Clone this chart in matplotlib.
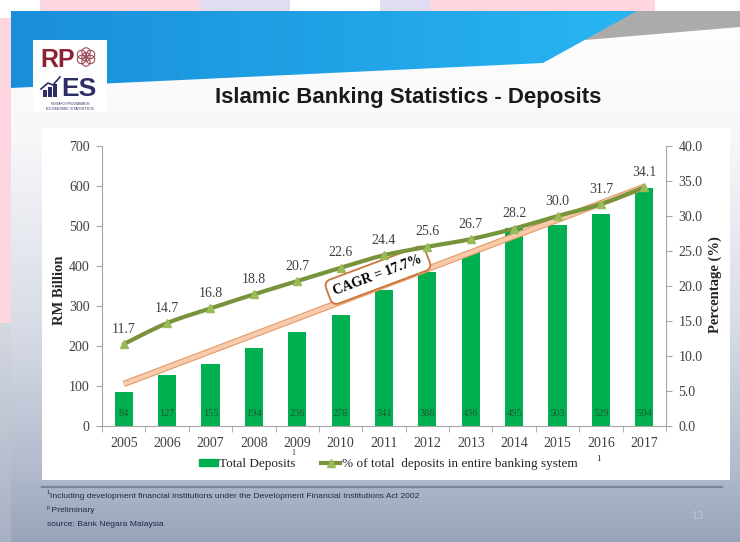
import numpy as np
import matplotlib
matplotlib.use("Agg")
import matplotlib.pyplot as plt
from matplotlib.patches import Polygon, Rectangle, Circle, PathPatch
from matplotlib.path import Path
from matplotlib.lines import Line2D
import matplotlib.patheffects as pe

# ---- data -------------------------------------------------------------
years = ["2005", "2006", "2007", "2008", "2009", "2010", "2011",
         "2012", "2013", "2014", "2015", "2016", "2017"]
deposits = [84, 127, 155, 194, 236, 278, 341, 386, 436, 495, 503, 529, 594]
share_pct = [11.7, 14.7, 16.8, 18.8, 20.7, 22.6, 24.4, 25.6, 26.7, 28.2,
             30.0, 31.7, 34.1]
cagr_text = "CAGR = 17.7%"
cagr_line = [105, 598]          # RM billion at first and last year
left_ticks = [0, 100, 200, 300, 400, 500, 600, 700]
right_ticks = [0, 5, 10, 15, 20, 25, 30, 35, 40]

title = "Islamic Banking Statistics - Deposits"
legend_labels = ["Total Deposits", "% of total  deposits in entire banking system"]
footnotes = ["Including development financial institutions under the Development Financial Institutions Act 2002",
             " Preliminary",
             "source: Bank Negara Malaysia"]

SERIF = ["Liberation Serif", "DejaVu Serif"]
NARROW = ["Liberation Sans Narrow", "Liberation Sans", "DejaVu Sans"]
BAR_GREEN = "#00B050"
LINE_GREEN = "#77933C"
MARK_GREEN = "#9BBB59"
TXT = "#404040"
AXIS_GREY = "#A6A6A6"

W, H = 740, 542
fig = plt.figure(figsize=(W / 100, H / 100), dpi=100)

# ---- slide background (pixel coordinates) ------------------------------
bg = fig.add_axes([0, 0, 1, 1], zorder=-10)
bg.set_xlim(0, W)
bg.set_ylim(H, 0)
bg.axis("off")

# outer page strips
bg.add_patch(Rectangle((0, 0), W, H, color="white", zorder=0))
for x0, x1, c in [(40, 200, "#FDD6DF"), (200, 290, "#E0DDF2"),
                  (380, 430, "#E0DDF2"), (430, 655, "#FDD6DF")]:
    bg.add_patch(Rectangle((x0, 0), x1 - x0, 11, color=c, lw=0, zorder=1))
bg.add_patch(Rectangle((0, 18), 11, 305, color="#FDD6DF", lw=0, zorder=1))
side = np.linspace(0, 1, 100)[:, None, None]
side_cols = (1 - side) * np.array([0.83, 0.85, 0.88]) + side * np.array([0.66, 0.69, 0.76])
bg.imshow(side_cols, extent=(0, 11, H, 323), aspect="auto", zorder=1)

# slide body: white fading to grey-blue towards the bottom
yy = np.linspace(11, H, 300)
def grad(y):
    stops = [(11, (1, 1, 1)), (140, (0.97, 0.97, 0.98)), (330, (0.84, 0.86, 0.90)),
             (470, (0.70, 0.73, 0.80)), (542, (0.60, 0.64, 0.73))]
    ys = [s[0] for s in stops]
    return [np.interp(y, ys, [s[1][k] for s in stops]) for k in range(3)]
body = np.array([grad(y) for y in yy])[:, None, :]
bg.imshow(body, extent=(11, W, H, 11), aspect="auto", zorder=2)

# header shapes
bg.add_patch(Polygon([(600, 11), (W, 11), (W, 27), (585, 40)],
                     closed=True, color="#ABABAB", lw=0, zorder=3))
blue_grad = np.linspace(0, 1, 200)[None, :, None]
blue_cols = (1 - blue_grad) * np.array([0.10, 0.56, 0.85]) + blue_grad * np.array([0.16, 0.71, 0.95])
blue_img = bg.imshow(blue_cols, extent=(11, 637, 88, 11), aspect="auto", zorder=4)
blue_poly = Polygon([(11, 11), (637, 11), (543, 63), (11, 88)], closed=True,
                    transform=bg.transData)
blue_img.set_clip_path(blue_poly)

# logo
bg.add_patch(Rectangle((33, 40), 74, 72, color="white", lw=0, zorder=5))
bg.text(40, 67, "RP", fontsize=18, fontweight="bold", family=NARROW,
        color="#8C2332", ha="left", va="baseline", zorder=6)
for dx, dy in [(0, 0), (0, -5), (0, 5), (-4.5, -2.5), (4.5, -2.5), (-4.5, 2.5), (4.5, 2.5)]:
    bg.add_patch(Circle((86 + dx, 57 + dy), 4.2, fill=False, ec="#9C4A58", lw=0.8, zorder=6))
bg.text(61, 96, "ES", fontsize=19, fontweight="bold", family=NARROW,
        color="#2D2E66", ha="left", va="baseline", zorder=6)
for bx, bh in [(43, 7), (48, 10), (53, 13)]:
    bg.add_patch(Rectangle((bx, 97 - bh), 4, bh, color="#2D2E66", lw=0, zorder=6))
bg.plot([41, 48, 53, 60], [89, 83, 85, 77], color="#2D2E66", lw=1.2, zorder=6)
bg.text(70, 104, "RESEARCH PROGRAMME IN", fontsize=2.0, family=NARROW,
        color="#2D2E66", ha="center", va="center", zorder=6)
bg.text(70, 108.5, "ECONOMIC STATISTICS", fontsize=3.0, family=NARROW,
        color="#2D2E66", ha="center", va="center", zorder=6)

# title
bg.text(408, 98, title, fontsize=16, fontweight="bold",
        family=["Liberation Sans", "DejaVu Sans"], color="#1A1A1A",
        ha="center", va="center", zorder=6)

# chart card and bottom rule
bg.add_patch(Rectangle((42, 128), 688, 352, color="white", lw=0, zorder=5))
bg.plot([42, 722], [487, 487], color="#7A859C", lw=1.6, zorder=6)

# footnotes
FN = 6.1
bg.text(47, 492.5, "1", fontsize=4, family=NARROW, color="#1F2A44", va="center", zorder=6)
bg.text(50, 496, footnotes[0], fontsize=FN, family=NARROW, color="#1F2A44",
        va="center", zorder=6)
bg.text(47, 508, "p", fontsize=4, family=NARROW, color="#1F2A44", va="center", zorder=6)
bg.text(49, 510.5, footnotes[1], fontsize=FN, family=NARROW, color="#1F2A44",
        va="center", zorder=6)
bg.text(47, 525, footnotes[2], fontsize=FN, family=NARROW, color="#1F2A44",
        va="center", zorder=6)
bg.text(697, 516, "13", fontsize=8, family=["Liberation Sans", "DejaVu Sans"],
        color="#BCC3D0", ha="center", va="center", zorder=6)

# ---- chart ------------------------------------------------------------
ax = fig.add_axes([102 / W, 1 - 426 / H, 564 / W, 280 / H], zorder=5)
ax.patch.set_visible(False)
x = np.arange(len(years))

ax.bar(x, deposits, width=0.42, color=BAR_GREEN, zorder=2)
for xi, v in zip(x, deposits):
    ax.text(xi, 32, str(v), ha="center", va="center", fontsize=7.5,
            family=SERIF, color="#1F5A2C", zorder=3)

ax.set_xlim(-0.5, len(years) - 0.5)
ax.set_ylim(left_ticks[0], left_ticks[-1])
ax.set_yticks(left_ticks)
ax.set_yticklabels([str(t) for t in left_ticks])
ax.set_xticks(x)
ax.set_xticklabels(years)
ax.set_xticks(np.arange(-0.5, len(years)), minor=True)
ax.tick_params(axis="x", which="major", length=0, pad=8, labelsize=10, labelcolor=TXT)
ax.tick_params(axis="x", which="minor", length=4, color=AXIS_GREY, direction="out")
ax.tick_params(axis="y", length=4, color=AXIS_GREY, direction="out", pad=5,
               labelsize=10, labelcolor=TXT)
for lab in ax.get_xticklabels() + ax.get_yticklabels():
    lab.set_family(SERIF)
for s in ["left", "bottom"]:
    ax.spines[s].set_color(AXIS_GREY)
for s in ["top", "right"]:
    ax.spines[s].set_visible(False)
ax.set_ylabel("RM Billion", family=SERIF, fontweight="bold", fontsize=10.5, color="#262626")
ax.yaxis.set_label_coords(-0.063, 0.486)

# trend arrow with CAGR callout
ax.plot([x[0], x[-1]], cagr_line, color="#F8CBAD", lw=3, solid_capstyle="butt", zorder=4,
        path_effects=[pe.Stroke(linewidth=4.6, foreground="#E39A63"), pe.Normal()])
ax.text(5.86, 377, cagr_text, rotation=20.5, rotation_mode="anchor",
        ha="center", va="center", fontsize=10, fontweight="bold", family=SERIF,
        color="black", zorder=5,
        bbox=dict(boxstyle="round,pad=0.45,rounding_size=0.5", fc="white",
                  ec="#C9753A", lw=1.3))

# share of banking system on the secondary axis
ax2 = ax.twinx()
ax2.set_zorder(6)
ax2.patch.set_visible(False)
ax2.set_ylim(right_ticks[0], right_ticks[-1])
ax2.set_yticks(right_ticks)
ax2.set_yticklabels([f"{t:.1f}" for t in right_ticks])
ax2.tick_params(axis="y", length=4, color=AXIS_GREY, direction="out", pad=5,
                labelsize=10, labelcolor=TXT)
for lab in ax2.get_yticklabels():
    lab.set_family(SERIF)
ax2.spines["right"].set_color(AXIS_GREY)
for s in ["top", "left", "bottom"]:
    ax2.spines[s].set_visible(False)
ax2.set_ylabel("Percentage (%)", family=SERIF, fontweight="bold", fontsize=10.5,
               color="#262626", rotation=90)
ax2.yaxis.set_label_coords(1.076, 0.504)

# smoothed line (Catmull-Rom through the points)
pts = np.column_stack([x, share_pct]).astype(float)
ext = np.vstack([pts[0], pts, pts[-1]])
verts = [tuple(pts[0])]
codes = [Path.MOVETO]
for i in range(len(pts) - 1):
    p0, p1, p2, p3 = ext[i], ext[i + 1], ext[i + 2], ext[i + 3]
    c1 = p1 + (p2 - p0) / 6
    c2 = p2 - (p3 - p1) / 6
    verts += [tuple(c1), tuple(c2), tuple(p2)]
    codes += [Path.CURVE4] * 3
ax2.add_patch(PathPatch(Path(verts, codes), fill=False, ec=LINE_GREEN, lw=3,
                        capstyle="round", zorder=3))
ax2.plot(x, share_pct, ls="none", marker="^", ms=6, mfc=MARK_GREEN, mec=MARK_GREEN, zorder=4)
for xi, v in zip(x, share_pct):
    ax2.annotate(f"{v:.1f}", (xi, v), xytext=(0, 6), textcoords="offset points",
                 ha="center", va="bottom", fontsize=10, family=SERIF, color=TXT)

# legend
handles = [Rectangle((0, 0), 1, 1, color=BAR_GREEN),
           Line2D([], [], color=LINE_GREEN, lw=3, marker="^", ms=6,
                  mfc=MARK_GREEN, mec=MARK_GREEN)]
fig.legend(handles, legend_labels, loc="center", bbox_to_anchor=(388 / W, 1 - 464 / H),
           ncol=2, frameon=False, prop={"family": SERIF, "size": 9.5},
           handlelength=1.45, handleheight=0.4, handletextpad=0.1,
           columnspacing=1.95, labelcolor="#262626", borderpad=0.1)
bg.text(293, 453, "1", fontsize=5.5, family=SERIF, color="#262626",
        ha="center", va="center", zorder=7)
bg.text(598, 459, "1", fontsize=6.5, family=SERIF, color="#262626",
        ha="center", va="center", zorder=7)

fig.savefig("out.png", dpi=100)
